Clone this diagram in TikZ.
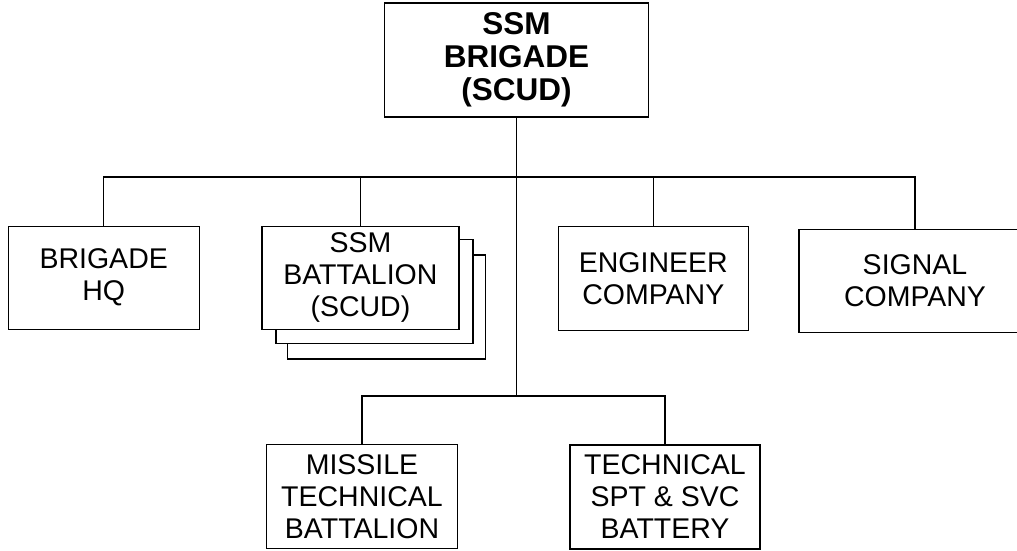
\documentclass[tikz,border=0pt]{standalone}
\usepackage{fontspec}
\setmainfont{Liberation Sans}
\begin{document}
\begin{tikzpicture}[x=1pt,y=-1pt,
  box/.style={draw, line width=1.3pt, fill=white, inner sep=0pt, align=center,
    font=\fontsize{28.5}{32}\selectfont},
  title/.style={box, font=\fontsize{31.5}{33}\selectfont\bfseries},
  link/.style={line width=1.3pt}]
\useasboundingbox (0,0) rectangle (1017,550);
\node[title, minimum width=264pt, minimum height=114pt] (top) at (516.5,60) {SSM\\BRIGADE\\(SCUD)};
\node[box, minimum width=191pt, minimum height=103pt] (hq) at (103.7,277.7) {BRIGADE\\HQ};
\node[box, minimum width=198pt, minimum height=104pt] (bat3) at (386.5,307) {};
\node[box, minimum width=197pt, minimum height=104pt] (bat2) at (374.5,291.5) {};
\node[box, minimum width=197pt, minimum height=103pt] (bat) at (360.4,277.7) {SSM\\BATTALION\\(SCUD)};
\node[box, minimum width=190pt, minimum height=104pt] (eng) at (653.3,278.8) {ENGINEER\\COMPANY};
\node[box, minimum width=232pt, minimum height=103pt] (sig) at (915,280.7) {SIGNAL\\COMPANY};
\node[box, minimum width=191pt, minimum height=104pt] (mis) at (362,496.3) {MISSILE\\TECHNICAL\\BATTALION};
\node[box, minimum width=190pt, minimum height=104pt] (tech) at (665,497) {TECHNICAL\\SPT \& SVC\\BATTERY};
\coordinate (j1) at (516.5,177);
\coordinate (j2) at (516.5,396);
\draw[link] (top.south) -- (j2);
\draw[link] (hq.north) |- (j1) -| (sig.north);
\draw[link] (bat.north) -- (bat.north |- j1);
\draw[link] (eng.north) -- (eng.north |- j1);
\draw[link] (mis.north) |- (j2) -| (tech.north);
\end{tikzpicture}
\end{document}
